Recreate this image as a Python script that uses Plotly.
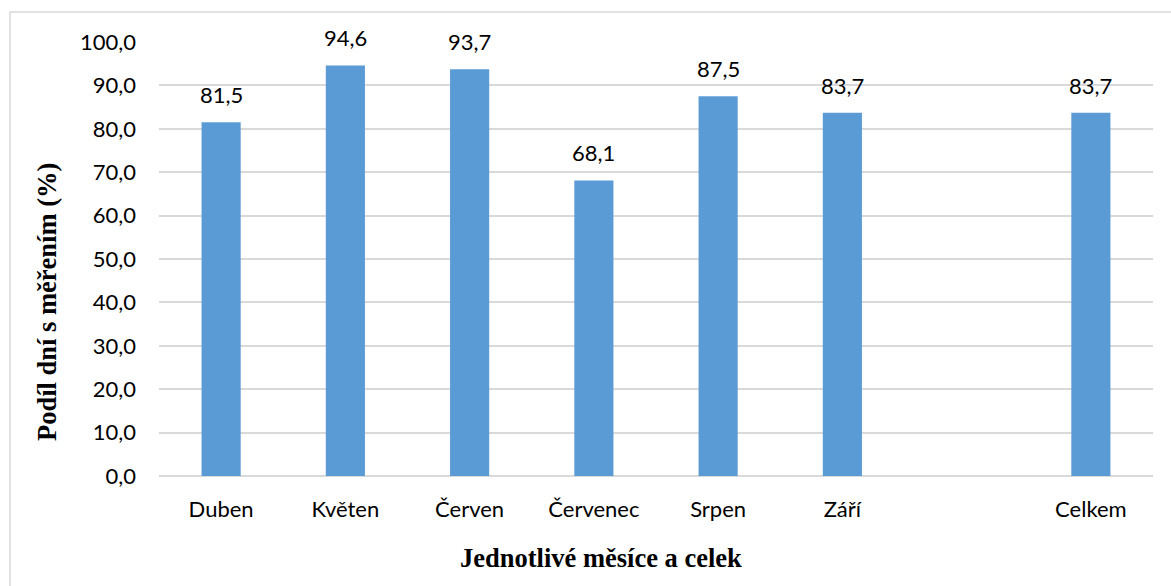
import plotly.graph_objects as go

# Monthly share of days with measurement (%), plus the overall value
months = ["Duben", "Květen", "Červen", "Červenec", "Srpen", "Září", "Celkem"]
shares = [81.5, 94.6, 93.7, 68.1, 87.5, 83.7, 83.7]
# axis slots: a blank slot separates the months from the total
slots = ["Duben", "Květen", "Červen", "Červenec", "Srpen", "Září", " ", "Celkem"]
y_ticks = [0, 10, 20, 30, 40, 50, 60, 70, 80, 90, 100]

BAR = "#5B9BD5"
GRID = "#D9D9D9"
TICK_FONT = dict(family="Lato, Open Sans, sans-serif", size=22, color="#000000")
TITLE_FONT = dict(family="Liberation Serif, Times New Roman, serif", size=26.5, color="#000000")

fig = go.Figure()
fig.add_trace(go.Bar(
    x=months, y=shares,
    marker=dict(color=BAR, line=dict(width=0)),
    width=0.315,
    hoverinfo="x+y",
))

# value labels above each bar
for m, v in zip(months, shares):
    fig.add_annotation(
        x=m, y=v, xref="x", yref="y",
        text=f"{v:.1f}".replace(".", ","),
        showarrow=False, yanchor="bottom", yshift=12,
        font=TICK_FONT,
    )

# outer chart frame (clipped at the right and bottom)
fig.add_shape(type="rect", xref="paper", yref="paper",
              x0=-0.1499, x1=1.2, y0=-0.6, y1=1.069,
              line=dict(color=GRID, width=1.5), layer="below")

fig.add_annotation(
    text="<b>Jednotlivé měsíce a celek</b>",
    xref="paper", yref="paper", x=0.445, y=-0.19,
    xanchor="center", yanchor="middle", showarrow=False, font=TITLE_FONT,
)
fig.add_annotation(
    text="<b>Podíl dní s měřením (%)</b>",
    xref="paper", yref="paper", x=-0.1127, y=0.401,
    xanchor="center", yanchor="middle", textangle=-90, showarrow=False, font=TITLE_FONT,
)

fig.update_layout(
    width=1171, height=586,
    margin=dict(l=159, r=18, t=42, b=110),
    paper_bgcolor="white", plot_bgcolor="white",
    separators=", ",
    showlegend=False,
    bargap=0.685,
)
fig.update_xaxes(
    type="category", categoryorder="array", categoryarray=slots,
    range=[-0.5, 7.5],
    showgrid=False, zeroline=False, showline=False,
    ticks="", ticklabelstandoff=18, tickfont=TICK_FONT,
)
fig.update_yaxes(
    range=[0, 100], tickvals=y_ticks, tickformat=".1f",
    showgrid=True, gridcolor=GRID, gridwidth=1.5,
    zeroline=True, zerolinecolor=GRID, zerolinewidth=1.5,
    showline=False, ticks="", ticklabelstandoff=22, tickfont=TICK_FONT,
)

fig.write_html("out.html")
